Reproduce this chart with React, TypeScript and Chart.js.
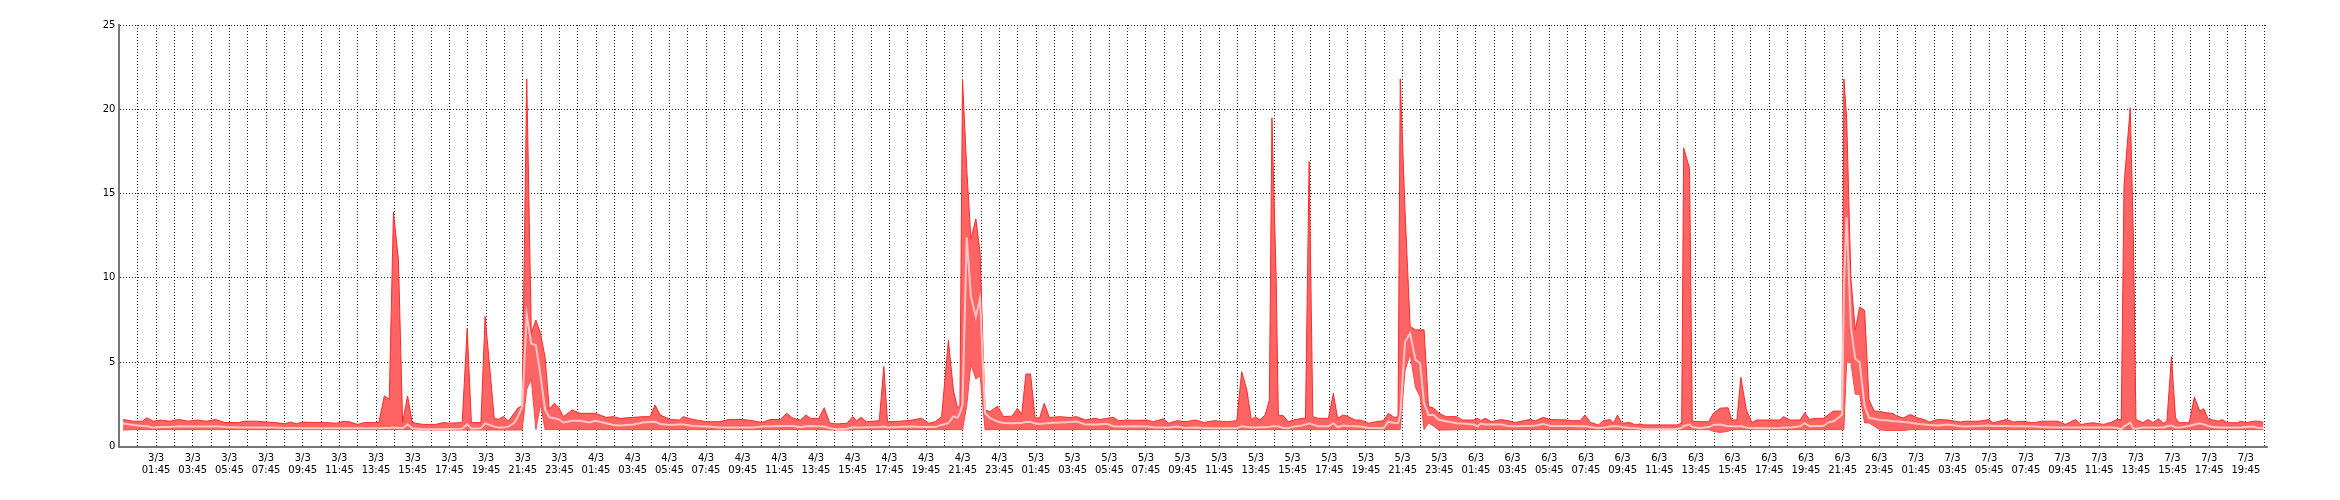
import { useEffect, useRef } from 'react';
import { Chart, registerables } from 'chart.js';

Chart.register(...registerables);

// Sample times, in hours counted from 3/3 00:00
const times = [
  -0.05, 0.5, 1.0, 1.25, 1.6, 2.0, 2.5, 3.0, 3.5, 4.0, 4.5, 5.0, 5.5, 6.25, 6.6, 7.25, 7.75, 8.25, 8.75, 9.1, 9.4, 9.75, 10.25, 11.0, 11.6, 12.0, 12.35, 12.75, 13.1, 13.9,
  14.2, 14.47, 14.7, 14.97, 15.2, 15.47, 15.72, 16.3, 17.0, 17.45, 17.75, 18.45, 18.72, 18.95, 19.47, 19.7, 20.2, 20.45, 20.7, 20.97, 21.3, 21.5, 21.72, 21.97, 22.22, 22.47, 22.72, 22.97, 23.2, 23.47, 23.72, 23.97,
  24.45, 24.87, 25.4, 25.7, 26.3, 26.7, 27.05, 27.8, 28.3, 28.7, 28.97, 29.25, 29.8, 30.3, 30.5, 31.05, 31.8, 32.5, 32.97, 33.8, 34.3, 34.8, 35.25, 35.8, 36.15, 36.5, 36.9, 37.2, 37.45, 37.9,
  38.2, 38.5, 38.9, 39.45, 39.75, 39.97, 40.2, 40.5, 41.2, 41.45, 41.65, 42.3, 42.9, 43.5, 43.9, 44.25, 44.6, 44.97, 45.25, 45.47, 45.6, 45.74, 45.97, 46.2, 46.47, 46.7, 46.97, 47.25, 47.65, 47.97,
  48.45, 48.74, 48.97, 49.2, 49.45, 49.7, 49.95, 50.2, 50.48, 51.05, 51.6, 51.97, 52.45, 52.97, 53.25, 53.6, 53.97, 54.25, 54.7, 55.1, 55.8, 56.15, 56.7, 56.97, 57.45, 57.9, 58.45, 58.9, 59.45, 60.15,
  60.7, 60.97, 61.25, 61.5, 61.7, 61.97, 62.25, 62.48, 62.62, 62.85, 62.97, 63.25, 63.5, 63.8, 64.25, 64.45, 64.65, 64.85, 65.15, 65.7, 65.97, 66.2, 66.5, 66.8, 67.15, 67.45, 67.9, 68.3, 68.7, 68.97,
  69.3, 69.5, 69.62, 69.88, 70.16, 70.45, 70.7, 70.92, 71.16, 71.45, 71.7, 72.1,
  72.7, 73.0, 73.6, 73.85, 74.0, 74.25, 74.6, 75.1, 75.5, 75.9, 76.35, 76.7, 77.0, 77.43, 77.8, 78.7, 79.0, 79.43, 79.7, 80.0, 80.43, 80.7, 81.07, 81.25, 81.47, 81.7, 82.15, 82.45, 82.7, 82.9,
  83.5, 84.2, 84.7, 84.97, 85.08, 85.4, 85.55, 86.0, 86.45, 86.7, 87.07, 87.5, 87.7, 87.98, 88.2, 88.5, 88.8, 89.07, 89.6, 90.35, 90.52, 90.9, 91.43, 91.68, 91.95, 92.25, 92.7, 92.95, 93.25, 93.6,
  93.72, 93.82, 93.97, 94.2, 94.44, 94.68, 94.95, 95.19, 95.47, 95.76,
  96.13, 96.5, 96.7, 97.07, 97.45, 97.82, 98.2, 98.48, 98.95, 99.5, 100.17, 100.45, 101.2, 101.73, 101.95, 102.7, 103.08, 103.46, 104.2, 104.6, 105.5, 105.9, 106.46, 106.75, 107.4, 108.0, 108.44, 108.72, 108.95, 109.1,
  109.44, 109.62, 109.75, 110.13, 110.41, 110.69, 110.97, 111.25, 111.44, 111.69, 111.91, 112.1, 112.66, 112.94, 113.23, 113.45, 113.7, 113.98, 114.26, 114.45, 114.73, 115.29, 115.48, 115.76, 116.14, 116.51, 116.7,
];

const maxVals = [
  1.6, 1.5, 1.5, 1.7, 1.5, 1.57, 1.5, 1.6, 1.5, 1.57, 1.5, 1.6, 1.42, 1.42, 1.5, 1.5, 1.45, 1.42, 1.35, 1.45, 1.35, 1.45, 1.42, 1.42, 1.38, 1.5, 1.45, 1.31, 1.42, 1.42,
  3.0, 2.8, 13.9, 11.1, 1.42, 3.0, 1.42, 1.31, 1.31, 1.42, 1.38, 1.42, 7.0, 1.42, 1.42, 7.7, 1.65, 1.62, 1.78, 1.5, 2.0, 2.3, 2.4, 21.8, 6.7, 7.5, 6.7, 5.3, 2.2, 2.56, 2.3, 1.77,
  2.17, 1.97, 1.97, 1.97, 1.73, 1.77, 1.67, 1.73, 1.77, 1.77, 2.46, 1.87, 1.6, 1.57, 1.77, 1.6, 1.47, 1.47, 1.6, 1.6, 1.53, 1.42, 1.6, 1.6, 1.97, 1.67, 1.57, 1.87, 1.67, 1.67,
  2.3, 1.38, 1.34, 1.38, 1.77, 1.53, 1.73, 1.47, 1.53, 4.74, 1.47, 1.5, 1.55, 1.68, 1.38, 1.47, 1.77, 6.3, 3.3, 2.3, 2.4, 21.8, 16.5, 12.3, 13.5, 11.5, 2.17, 2.07, 2.4, 1.78,
  1.8, 2.27, 1.9, 4.3, 4.3, 1.7, 1.7, 2.56, 1.72, 1.77, 1.72, 1.77, 1.57, 1.67, 1.6, 1.67, 1.73, 1.53, 1.57, 1.55, 1.57, 1.47, 1.64, 1.38, 1.53, 1.47, 1.57, 1.42, 1.53, 1.47,
  1.53, 4.44, 3.36, 1.57, 1.77, 1.57, 1.87, 2.76, 19.5, 10.0, 1.87, 1.82, 1.47, 1.57, 1.67, 1.67, 16.9, 1.77, 1.67, 1.67, 3.16, 1.67, 1.87, 1.77, 1.57, 1.57, 1.38, 1.47, 1.53, 1.97,
  1.72, 1.77, 21.8, 14.0, 7.12, 6.92, 6.92, 6.92, 2.37, 2.27, 2.0, 1.77,
  1.77, 1.57, 1.57, 1.67, 1.53, 1.67, 1.47, 1.6, 1.53, 1.42, 1.53, 1.6, 1.53, 1.73, 1.6, 1.57, 1.53, 1.53, 1.87, 1.42, 1.28, 1.53, 1.6, 1.38, 1.87, 1.38, 1.42, 1.28, 1.34, 1.28,
  1.28, 1.28, 1.28, 1.38, 17.7, 16.5, 1.5, 1.47, 1.47, 1.97, 2.27, 2.3, 1.57, 1.57, 4.1, 2.17, 1.42, 1.57, 1.57, 1.57, 1.77, 1.57, 1.57, 2.0, 1.6, 1.67, 1.67, 1.87, 2.1, 2.1,
  2.1, 21.8, 19.5, 10.0, 6.9, 8.27, 8.08, 2.78, 2.1, 2.08,
  2.0, 1.96, 1.8, 1.7, 1.9, 1.7, 1.6, 1.45, 1.6, 1.57, 1.45, 1.5, 1.5, 1.6, 1.41, 1.6, 1.45, 1.5, 1.41, 1.5, 1.5, 1.31, 1.6, 1.31, 1.41, 1.31, 1.45, 1.6, 1.6, 15.5,
  20.1, 12.0, 1.6, 1.41, 1.6, 1.41, 1.65, 1.37, 1.5, 5.33, 1.7, 1.41, 1.41, 2.94, 2.1, 2.24, 1.6, 1.57, 1.5, 1.6, 1.41, 1.41, 1.5, 1.41, 1.5, 1.5, 1.41,
];

const avgVals = [
  1.37, 1.27, 1.22, 1.2, 1.12, 1.15, 1.15, 1.2, 1.18, 1.18, 1.18, 1.2, 1.15, 1.12, 1.12, 1.12, 1.12, 1.12, 1.1, 1.1, 1.1, 1.08, 1.08, 1.08, 1.08, 1.08, 1.08, 1.08, 1.08, 1.08,
  1.1, 1.1, 1.12, 1.1, 1.08, 1.31, 1.08, 1.02, 1.02, 1.02, 1.04, 1.06, 1.31, 1.06, 1.08, 1.37, 1.18, 1.12, 1.12, 1.18, 1.41, 1.8, 2.37, 7.8, 6.1, 6.0, 4.2, 2.2, 1.73, 1.67, 1.6, 1.42,
  1.53, 1.53, 1.42, 1.53, 1.38, 1.28, 1.25, 1.3, 1.42, 1.45, 1.47, 1.34, 1.28, 1.3, 1.3, 1.22, 1.18, 1.12, 1.12, 1.12, 1.12, 1.18, 1.2, 1.22, 1.22, 1.22, 1.14, 1.2, 1.22, 1.2,
  1.18, 1.08, 1.02, 1.05, 1.14, 1.12, 1.12, 1.14, 1.15, 1.18, 1.12, 1.15, 1.18, 1.15, 1.15, 1.15, 1.28, 1.38, 1.8, 1.7, 2.0, 2.47, 12.4, 8.9, 7.7, 8.8, 1.97, 1.68, 1.48, 1.4,
  1.38, 1.4, 1.4, 1.45, 1.47, 1.36, 1.34, 1.36, 1.4, 1.42, 1.45, 1.48, 1.3, 1.3, 1.32, 1.35, 1.2, 1.18, 1.18, 1.2, 1.18, 1.14, 1.12, 1.12, 1.18, 1.1, 1.12, 1.1, 1.08, 1.08,
  1.08, 1.2, 1.15, 1.12, 1.12, 1.14, 1.14, 1.15, 1.2, 1.2, 1.18, 1.1, 1.08, 1.18, 1.25, 1.3, 1.38, 1.3, 1.2, 1.2, 1.38, 1.15, 1.25, 1.22, 1.2, 1.18, 1.1, 1.1, 1.08, 1.47,
  1.4, 1.38, 1.87, 6.2, 6.72, 5.14, 4.94, 2.56, 1.87, 1.87, 1.6, 1.5,
  1.38, 1.36, 1.3, 1.2, 1.36, 1.3, 1.3, 1.3, 1.22, 1.2, 1.22, 1.22, 1.25, 1.34, 1.22, 1.22, 1.22, 1.2, 1.22, 1.15, 1.08, 1.12, 1.18, 1.2, 1.22, 1.15, 1.1, 1.08, 1.05, 1.02,
  1.02, 1.02, 1.02, 1.1, 1.22, 1.3, 1.15, 1.08, 1.15, 1.28, 1.3, 1.2, 1.2, 1.18, 1.22, 1.12, 1.08, 1.1, 1.08, 1.1, 1.12, 1.12, 1.2, 1.38, 1.2, 1.22, 1.22, 1.42, 1.5, 1.77,
  1.9, 9.6, 13.6, 7.1, 5.2, 5.0, 2.4, 1.7, 1.65, 1.57,
  1.55, 1.5, 1.5, 1.45, 1.41, 1.35, 1.31, 1.28, 1.25, 1.31, 1.2, 1.18, 1.22, 1.25, 1.22, 1.22, 1.2, 1.2, 1.18, 1.15, 1.12, 1.12, 1.12, 1.12, 1.12, 1.12, 1.12, 1.1, 1.02, 1.2,
  1.41, 1.05, 1.05, 1.12, 1.12, 1.12, 1.12, 1.12, 1.2, 1.25, 1.12, 1.12, 1.22, 1.3, 1.37, 1.3, 1.22, 1.15, 1.12, 1.12, 1.12, 1.12, 1.12, 1.15, 1.18, 1.08, 1.12,
];

const minVals = [
  0.98, 1.0, 1.0, 1.0, 1.0, 1.0, 1.0, 1.0, 1.0, 1.0, 1.0, 1.0, 1.0, 1.0, 1.0, 1.0, 1.0, 1.0, 1.0, 1.0, 1.0, 1.0, 1.0, 1.0, 1.0, 1.0, 1.0, 1.0, 1.0, 1.0,
  1.0, 1.0, 1.0, 1.0, 1.0, 1.0, 1.0, 0.98, 0.98, 0.98, 0.98, 0.98, 0.98, 0.98, 0.98, 0.98, 0.98, 0.98, 0.98, 0.98, 0.98, 0.98, 0.98, 3.4, 4.0, 1.0, 2.5, 1.0, 1.0, 1.0, 1.0, 1.0,
  1.0, 1.0, 1.0, 1.0, 1.0, 1.0, 1.0, 1.0, 1.0, 1.0, 1.0, 1.0, 1.0, 1.0, 1.0, 1.0, 1.0, 1.0, 1.0, 1.0, 1.0, 1.0, 1.0, 1.0, 1.0, 1.0, 1.0, 1.0, 1.0, 1.0,
  1.0, 0.98, 0.98, 0.98, 0.98, 1.0, 1.0, 1.0, 1.0, 1.0, 1.0, 1.0, 1.0, 1.0, 1.0, 1.0, 1.0, 1.0, 1.0, 1.0, 1.0, 1.0, 2.4, 4.9, 4.0, 4.2, 1.0, 1.0, 1.0, 1.0,
  1.0, 1.0, 1.0, 1.0, 1.0, 1.0, 1.0, 1.0, 1.0, 1.0, 1.0, 1.0, 1.0, 1.0, 1.0, 1.0, 1.0, 1.0, 1.0, 1.0, 1.0, 1.0, 1.0, 1.0, 1.0, 1.0, 1.0, 1.0, 1.0, 1.0,
  1.0, 1.0, 1.0, 1.0, 1.0, 1.0, 1.0, 1.0, 1.0, 1.0, 1.0, 1.0, 1.0, 1.0, 1.0, 1.0, 1.0, 1.0, 1.0, 1.0, 1.0, 1.0, 1.0, 1.0, 1.0, 1.0, 1.0, 1.0, 1.0, 1.0,
  1.0, 1.0, 1.0, 4.5, 5.5, 3.5, 2.96, 1.0, 1.4, 1.2, 0.98, 0.98,
  1.0, 1.0, 1.0, 1.0, 1.0, 1.0, 1.0, 1.0, 1.0, 1.0, 1.0, 1.0, 1.0, 1.0, 1.0, 1.0, 1.0, 1.0, 1.0, 1.0, 1.0, 1.0, 1.0, 1.0, 1.0, 1.0, 1.0, 1.0, 1.0, 1.0,
  1.0, 1.0, 1.0, 1.0, 1.0, 1.0, 1.0, 1.0, 1.0, 0.9, 0.83, 0.9, 1.0, 1.0, 1.0, 1.0, 1.0, 1.0, 1.0, 1.0, 1.0, 1.0, 1.0, 1.0, 1.0, 1.0, 1.0, 1.0, 1.0, 1.0,
  1.0, 1.0, 5.0, 5.0, 3.1, 3.1, 1.4, 1.4, 1.2, 1.0,
  0.95, 0.95, 0.95, 0.95, 1.0, 1.0, 1.0, 1.0, 1.0, 1.0, 1.0, 1.0, 1.0, 1.0, 1.0, 1.0, 1.0, 1.0, 1.0, 1.0, 1.0, 1.0, 1.0, 1.0, 1.0, 1.0, 1.0, 1.0, 1.0, 1.0,
  1.0, 1.0, 1.0, 1.0, 1.0, 1.0, 1.0, 1.0, 1.0, 1.0, 1.0, 1.0, 1.0, 1.0, 1.0, 1.0, 1.0, 1.0, 1.0, 1.0, 1.0, 1.0, 1.0, 1.0, 1.0, 1.0, 1.0,
];

const tickLabels = [
  '3/3 01:45', '3/3 03:45', '3/3 05:45', '3/3 07:45', '3/3 09:45', '3/3 11:45', '3/3 13:45', '3/3 15:45', '3/3 17:45', '3/3 19:45', '3/3 21:45', '3/3 23:45',
  '4/3 01:45', '4/3 03:45', '4/3 05:45', '4/3 07:45', '4/3 09:45', '4/3 11:45', '4/3 13:45', '4/3 15:45', '4/3 17:45', '4/3 19:45', '4/3 21:45', '4/3 23:45',
  '5/3 01:45', '5/3 03:45', '5/3 05:45', '5/3 07:45', '5/3 09:45', '5/3 11:45', '5/3 13:45', '5/3 15:45', '5/3 17:45', '5/3 19:45', '5/3 21:45', '5/3 23:45',
  '6/3 01:45', '6/3 03:45', '6/3 05:45', '6/3 07:45', '6/3 09:45', '6/3 11:45', '6/3 13:45', '6/3 15:45', '6/3 17:45', '6/3 19:45', '6/3 21:45', '6/3 23:45',
  '7/3 01:45', '7/3 03:45', '7/3 05:45', '7/3 07:45', '7/3 09:45', '7/3 11:45', '7/3 13:45', '7/3 15:45', '7/3 17:45', '7/3 19:45',
];

const yTicks = [0, 5, 10, 15, 20, 25];

const X_MIN = -0.25;
const X_MAX = 116.9;

export default function App() {
  const ref = useRef<HTMLCanvasElement>(null);

  useEffect(() => {
    if (!ref.current) return;
    const labelAt = new Map<number, string[]>();
    tickLabels.forEach((l) => {
      const [d, hm] = l.split(' ');
      const day = parseInt(d, 10);
      const hh = parseInt(hm.split(':')[0], 10);
      const pos = (day - 3) * 24 + hh + 0.75;
      labelAt.set(Math.round(pos * 4), [d, hm]);
    });
    const hourTicks: number[] = [];
    for (let h = 0; X_MIN + 1 + h <= X_MAX; h++) hourTicks.push(0.75 + h);

    const pts = (vals: number[]) => times.map((t, i) => ({ x: t, y: vals[i] }));
    const font = { family: 'DejaVu Sans', size: 10 };

    const chart = new Chart(ref.current, {
      type: 'line',
      data: {
        datasets: [
          {
            label: 'max',
            data: pts(maxVals),
            borderColor: '#ff2a2a',
            borderWidth: 1,
            backgroundColor: '#ff6464',
            fill: '+2',
            pointRadius: 0,
            tension: 0,
            order: 1,
          },
          {
            label: 'avg',
            data: pts(avgVals),
            borderColor: '#ffc4c4',
            borderWidth: 2,
            fill: false,
            pointRadius: 0,
            tension: 0,
            order: 0,
          },
          {
            label: 'min',
            data: pts(minVals),
            borderColor: '#ff4a4a',
            borderWidth: 1,
            fill: false,
            pointRadius: 0,
            tension: 0,
            order: 2,
          },
        ],
      },
      options: {
        animation: false,
        responsive: false,
        maintainAspectRatio: false,
        layout: { padding: { left: 0, right: 65, top: 17, bottom: 0 } },
        plugins: {
          legend: { display: false },
          tooltip: { enabled: false },
          filler: { drawTime: 'beforeDatasetsDraw' },
        },
        scales: {
          x: {
            type: 'linear',
            min: X_MIN,
            max: X_MAX,
            afterBuildTicks: (s: any) => {
              s.ticks = hourTicks.map((v) => ({ value: v }));
            },
            afterFit: (s: any) => {
              s.height = 45.5;
            },
            ticks: {
              autoSkip: false,
              maxRotation: 0,
              minRotation: 0,
              padding: 6,
              color: '#000',
              font,
              callback: (v: any) => labelAt.get(Math.round(Number(v) * 4)) ?? '',
            },
            grid: { color: '#2a2a2a', lineWidth: 1, drawTicks: false },
            border: { display: true, color: '#777', width: 2, dash: [1, 2] },
          },
          y: {
            min: 0,
            max: 25,
            afterBuildTicks: (s: any) => {
              s.ticks = yTicks.map((v) => ({ value: v }));
            },
            afterFit: (s: any) => {
              s.width = 111.4;
            },
            ticks: { padding: 4, color: '#000', font },
            grid: { color: '#2a2a2a', lineWidth: 1, drawTicks: false },
            border: { display: true, color: '#777', width: 2, dash: [1, 2] },
          },
        },
      },
    } as any);
    return () => chart.destroy();
  }, []);

  return <canvas ref={ref} width={2324} height={484} style={{ display: 'block' }} />;
}
